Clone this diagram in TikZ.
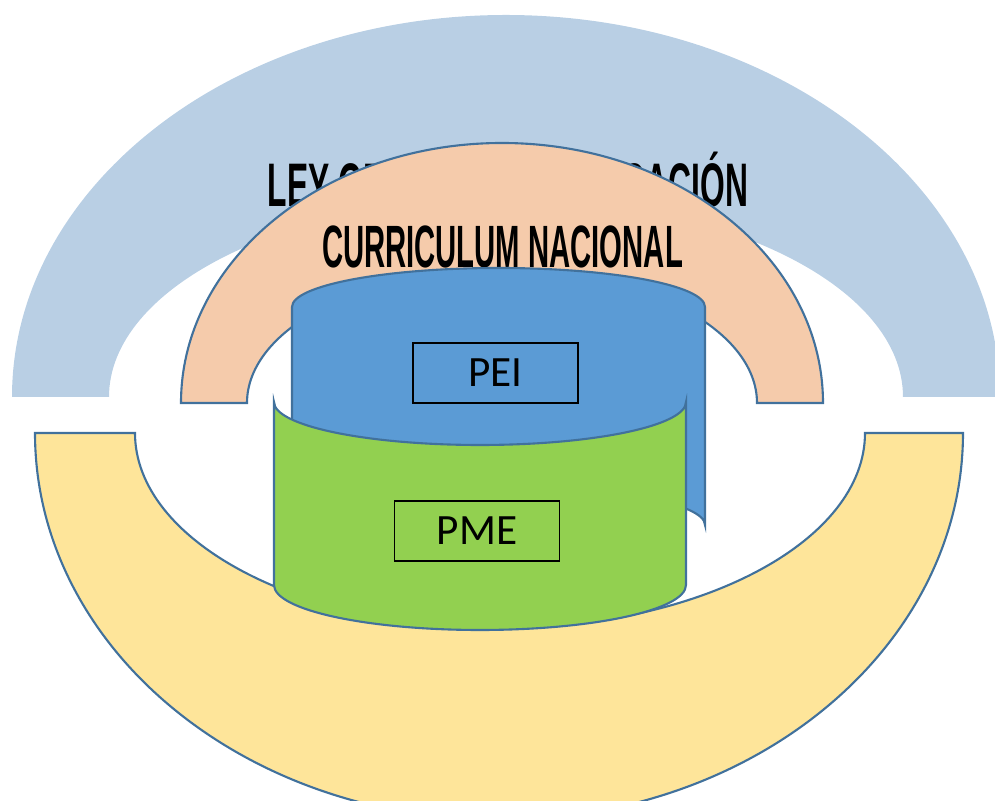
\documentclass[tikz,border=0pt]{standalone}
\usepackage{fontspec}
\setmainfont{Liberation Sans}
\newfontfamily\calibri{Carlito}
\usetikzlibrary{positioning}

\definecolor{leyblue}{RGB}{185,207,228}
\definecolor{peach}{RGB}{245,203,171}
\definecolor{sand}{RGB}{254,229,154}
\definecolor{peiblue}{RGB}{91,155,213}
\definecolor{pmegreen}{RGB}{146,208,80}
\definecolor{rim}{RGB}{65,113,156}

\tikzset{
 ring/.style={draw=rim, line width=1.2pt},
 title/.style={font=\bfseries\fontsize{#1}{40}\selectfont, inner sep=0pt, anchor=base},
 tag/.style={draw=black, line width=0.9pt, minimum width=3.3cm, minimum height=1.2cm, inner sep=0pt,
  font=\calibri\fontsize{24.6}{28}\selectfont},
}

\begin{document}
\begin{tikzpicture}[x=0.02cm, y=0.02cm]
\useasboundingbox (0,0) rectangle (995,801);
\clip (0,0) rectangle (995,801);
% ley general
\fill[leyblue] (12,404) arc[start angle=180, end angle=0, x radius=494, y radius=382]
 -- (903,404) arc[start angle=0, end angle=180, x radius=397, y radius=199] -- cycle;
\node[title=35, xscale=0.517] (ley) at (508,594) {LEY GENERAL DE EDUCACIÓN};
% curriculum
\filldraw[ring, fill=peach] (181,398) arc[start angle=180, end angle=0, x radius=321, y radius=260]
 -- (757,398) arc[start angle=0, end angle=180, x radius=255, y radius=134] -- cycle;
\node[title=34, xscale=0.49] (curr) at (502.5,533) {CURRICULUM NACIONAL};
% lower arc
\filldraw[ring, fill=sand] (35,368) arc[start angle=180, end angle=360, x radius=464, y radius=387]
 -- (865,368) arc[start angle=0, end angle=-180, x radius=365, y radius=195] -- cycle;
% cylinders
\filldraw[ring, fill=peiblue] (292,276) -- (292,494) arc[start angle=180, end angle=0, x radius=206.5, y radius=39]
 -- (705,276) arc[start angle=0, end angle=180, x radius=206.5, y radius=39] -- cycle;
\filldraw[ring, fill=pmegreen] (274,399) arc[start angle=180, end angle=360, x radius=206, y radius=43]
 -- (686,216) arc[start angle=0, end angle=-180, x radius=206, y radius=45] -- cycle;
\node[tag] (pei) at (495.5,428) {PEI};
\node[tag] (pme) at (477,270) {PME};
\end{tikzpicture}
\end{document}
